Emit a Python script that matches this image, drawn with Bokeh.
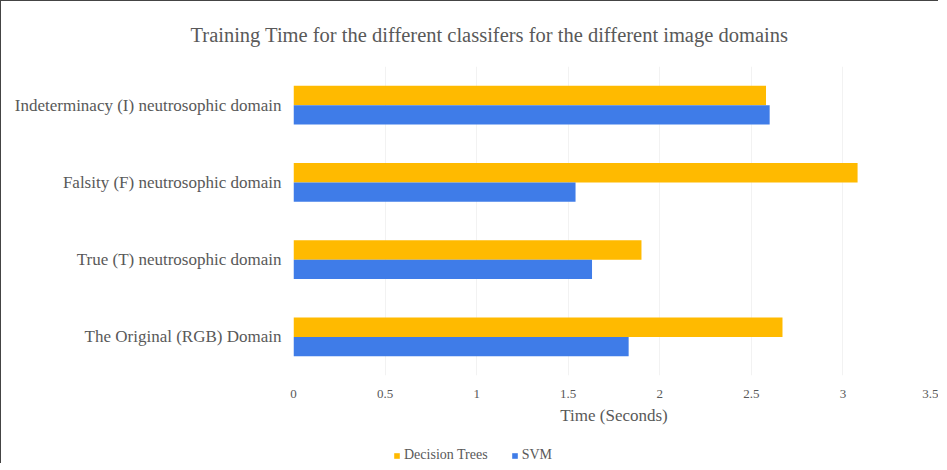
from bokeh.plotting import figure
from bokeh.layouts import column
from bokeh.models import ColumnDataSource, FactorRange, Legend, LegendItem, Range1d, FixedTicker
from bokeh.transform import dodge
from bokeh.embed import file_html
from bokeh.resources import INLINE

categories = ["The Original (RGB) Domain", "True (T) neutrosophic domain",
              "Falsity (F) neutrosophic domain", "Indeterminacy (I) neutrosophic domain"]
decision_trees = [2.67, 1.90, 3.08, 2.58]
svm = [1.83, 1.63, 1.54, 2.60]
x_ticks = [0, 0.5, 1, 1.5, 2, 2.5, 3, 3.5]
series_names = ["Decision Trees", "SVM"]
series_colors = ["#FFBA00", "#3F7CE8"]

src = ColumnDataSource(data=dict(cat=categories, dt=decision_trees, svm=svm))

FONT = "Liberation Serif"
GREY = "#595959"

p = figure(width=937, height=440, output_backend="svg", toolbar_location=None,
           y_range=FactorRange(factors=categories, range_padding=0),
           x_range=Range1d(0, 3.5),
           min_border_left=292, min_border_right=4, min_border_top=65, min_border_bottom=66)
p.outline_line_color = None

p.hbar(y=dodge("cat", 0.125, range=p.y_range), right="dt", left=0, height=0.25,
       source=src, color=series_colors[0], line_color=None)
p.hbar(y=dodge("cat", -0.125, range=p.y_range), right="svm", left=0, height=0.25,
       source=src, color=series_colors[1], line_color=None)

p.title.text = "Training Time for the different classifers for the different image domains"
p.title.align = "left"
p.title.offset = -103
p.title.text_font = FONT
p.title.text_font_style = "normal"
p.title.text_font_size = "20.5px"
p.title.text_color = GREY
p.title.standoff = 41

p.xaxis.ticker = FixedTicker(ticks=x_ticks)
p.xaxis.axis_line_color = None
p.xaxis.major_tick_line_color = None
p.xaxis.minor_tick_line_color = None
p.xaxis.major_label_text_font = FONT
p.xaxis.major_label_text_font_size = "13px"
p.xaxis.major_label_text_color = GREY
p.xaxis.major_label_standoff = 8
p.xaxis.axis_label = "Time (Seconds)"
p.xaxis.axis_label_text_font = FONT
p.xaxis.axis_label_text_font_style = "normal"
p.xaxis.axis_label_text_font_size = "17px"
p.xaxis.axis_label_text_color = GREY
p.xaxis.axis_label_standoff = 5

p.yaxis.axis_line_color = None
p.yaxis.major_tick_line_color = None
p.yaxis.minor_tick_line_color = None
p.yaxis.major_label_text_font = FONT
p.yaxis.major_label_text_font_size = "17px"
p.yaxis.major_label_text_color = GREY
p.yaxis.major_label_standoff = 6

p.xgrid.grid_line_color = "#f2f2f2"
p.ygrid.grid_line_color = None

# legend strip below the chart (its frame is aligned with the chart's frame)
lg = figure(width=937, height=22, output_backend="svg", toolbar_location=None,
            x_range=Range1d(0, 1), y_range=Range1d(0, 1),
            min_border_left=0, min_border_right=0, min_border_top=0, min_border_bottom=0)
lg.axis.visible = False
lg.grid.visible = False
lg.outline_line_color = None
key_src = ColumnDataSource(data=dict(y=[0], r=[0]))
items = []
for name, col in zip(series_names, series_colors):
    rr = lg.hbar(y="y", right="r", left=0, height=0.5, source=key_src, color=col, line_color=None)
    items.append(LegendItem(label=name, renderers=[rr]))
legend = Legend(items=items, orientation="horizontal", location=(100, 0),
                glyph_width=7, glyph_height=7, spacing=23, label_standoff=4,
                label_text_font=FONT, label_text_font_size="14px", label_text_color=GREY,
                border_line_color=None, background_fill_alpha=0, padding=0, margin=0)
lg.add_layout(legend, "center")

layout = column(p, lg, spacing=0)
layout.styles = {"border-left": "1px solid #444", "border-top": "1px solid #444"}

open("out.html", "w").write(file_html(layout, INLINE))
